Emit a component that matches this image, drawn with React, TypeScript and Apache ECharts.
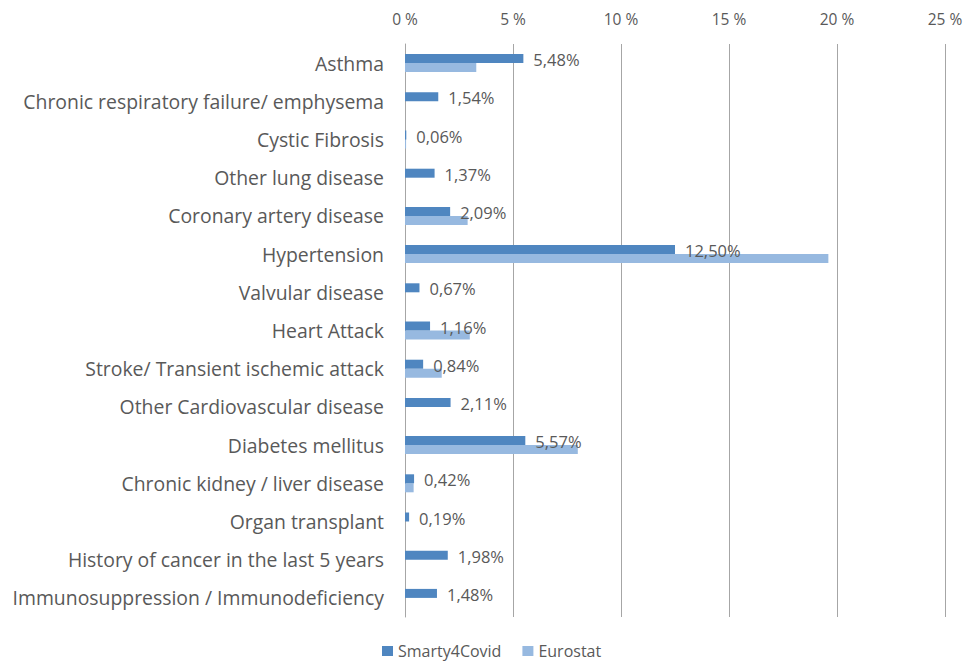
import React, { useEffect, useRef } from "react";
import * as echarts from "echarts";

const categories = [
  "Asthma",
  "Chronic respiratory failure/ emphysema",
  "Cystic Fibrosis",
  "Other lung disease",
  "Coronary artery disease",
  "Hypertension",
  "Valvular disease",
  "Heart Attack",
  "Stroke/ Transient ischemic attack",
  "Other Cardiovascular disease",
  "Diabetes mellitus",
  "Chronic kidney / liver disease",
  "Organ transplant",
  "History of cancer in the last 5 years",
  "Immunosuppression / Immunodeficiency",
];

const smartyValues = [5.48, 1.54, 0.06, 1.37, 2.09, 12.5, 0.67, 1.16, 0.84, 2.11, 5.57, 0.42, 0.19, 1.98, 1.48];
const eurostatValues = [3.3, 0, 0.05, 0, 2.9, 19.6, 0, 3.0, 1.7, 0, 8.0, 0.4, 0, 0, 0];

const xTicks = [0, 5, 10, 15, 20, 25];

const FONT = "Open Sans";
const TEXT = "#595959";

export default function App() {
  const ref = useRef<HTMLDivElement>(null);
  useEffect(() => {
    if (!ref.current) return;
    const chart = echarts.init(ref.current, undefined, { renderer: "svg" });
    chart.setOption({
      animation: false,
      textStyle: { fontFamily: FONT },
      grid: { left: 405, right: 23, top: 44, bottom: 46, containLabel: false },
      legend: {
        left: 382,
        top: 643,
        padding: 0,
        itemWidth: 11,
        itemHeight: 10,
        itemGap: 21,
        icon: "rect",
        textStyle: { fontFamily: FONT, fontSize: 16, lineHeight: 16, color: TEXT },
        data: ["Smarty4Covid", "Eurostat"],
      },
      xAxis: {
        type: "value",
        position: "top",
        min: xTicks[0],
        max: xTicks[xTicks.length - 1],
        interval: 5,
        axisLine: { show: false },
        axisTick: { show: false },
        splitLine: { show: true, lineStyle: { color: "#a6a6a6", width: 1 } },
        axisLabel: {
          margin: 17,
          fontFamily: FONT,
          fontSize: 15.5,
          color: TEXT,
          formatter: (v: number) => `${v} %`,
        },
      },
      yAxis: {
        type: "category",
        inverse: true,
        data: categories,
        axisLine: { show: true, lineStyle: { color: "#a6a6a6", width: 1 } },
        axisTick: { show: false },
        axisLabel: { margin: 21, fontFamily: FONT, fontSize: 19.4, color: TEXT },
      },
      series: [
        {
          name: "Smarty4Covid",
          type: "bar",
          data: smartyValues,
          barWidth: 9,
          barGap: "0%",
          itemStyle: { color: "#4F86C0" },
          label: {
            show: true,
            position: "right",
            distance: 10,
            offset: [0, 1],
            fontFamily: FONT,
            fontSize: 16.5,
            color: TEXT,
            formatter: (p: any) => `${Number(p.value).toFixed(2).replace(".", ",")}%`,
          },
          z: 3,
        },
        {
          name: "Eurostat",
          type: "bar",
          data: eurostatValues,
          barWidth: 9,
          barGap: "0%",
          itemStyle: { color: "#97B9E0" },
          z: 2,
        },
      ],
    });
    return () => chart.dispose();
  }, []);
  return (
    <div
      ref={ref}
      style={{ position: "fixed", left: 0, top: 0, width: 968, height: 663, background: "#fff" }}
    />
  );
}
